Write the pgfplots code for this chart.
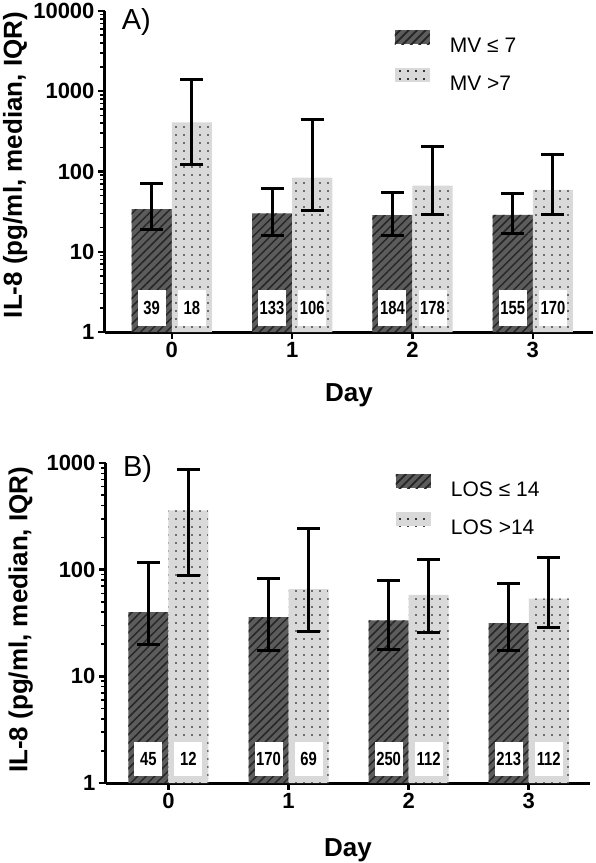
\documentclass[border=0pt]{standalone}
\usepackage{fontspec}
\setmainfont{Liberation Sans}
\newfontfamily\cntfont[FakeStretch=0.78]{Liberation Sans}
\usepackage{pgfplots}
\pgfplotsset{compat=1.18}
\usetikzlibrary{patterns.meta}
\definecolor{darkfill}{RGB}{92,92,92}
\definecolor{lightfill}{RGB}{217,217,217}
\tikzset{
  darkpat/.style={fill=darkfill, postaction={pattern color=black!85, pattern={Lines[angle=45,distance=6pt,line width=1.5pt]}}},
  lightpat/.style={fill=lightfill, postaction={pattern color=black, pattern={Dots[distance=8pt,radius=0.9pt]}}},
  cntnode/.style={anchor=center, fill=white, inner sep=0pt, minimum width=28pt, minimum height=#1, font=\cntfont\bfseries\fontsize{19}{19}\selectfont},
}
\begin{document}
\begin{tikzpicture}
\useasboundingbox (-105pt,-531pt) rectangle (491pt,332pt);
% ---------------- Panel A ----------------
\begin{axis}[at={(0pt,0pt)}, anchor=south west,
  scale only axis, width=488pt, height=321pt,
  ymode=log, clip=false,
  xmin=-0.555, xmax=3.5, ymin=1, ymax=10000,
  axis x line*=bottom, axis y line*=left,
  axis line style={line width=3pt, black},
  tick align=outside,
  major tick length=7pt, minor tick length=4.5pt,
  every major tick/.append style={line width=2.5pt, black},
  every minor tick/.append style={line width=1.5pt, black},
  xtick={0,1,2,3}, xticklabels={0,1,2,3},
  ytick={1,10,100,1000,10000}, yticklabels={1,10,100,1000,10000},
  minor ytick={2,3,4,5,6,7,8,9,20,30,40,50,60,70,80,90,200,300,400,500,600,700,800,900,2000,3000,4000,5000,6000,7000,8000,9000},
  tick label style={font=\bfseries\fontsize{22}{22}\selectfont},
  ylabel={IL-8 (pg/ml, median, IQR)}, xlabel={Day},
  label style={font=\bfseries\fontsize{26}{26}\selectfont, inner sep=0pt},
  ylabel style={at={(axis description cs:-0.184,0.52)}, anchor=center},
  xlabel style={at={(axis description cs:0.5,-0.159)}, anchor=north},
  legend style={draw=none, fill=none, inner sep=0pt, outer sep=0pt,
    row sep=12pt, font=\fontsize{21}{21}\selectfont,
    nodes={inner sep=0pt, text height=16pt, text depth=4pt},
    at={(0.594,0.94)}, anchor=north west},
  legend cell align=left,
]
\addplot[ybar, bar width=0.3333, bar shift=0pt, draw=none, darkpat,
  legend image code/.code={\path[darkpat] (0pt,2pt) rectangle (35pt,16pt); \path (55pt,0pt);},
  error bars/y dir=both, error bars/y explicit,
  error bars/error bar style={line width=3pt, black},
  error bars/error mark options={rotate=90, mark size=11.5pt, line width=3pt, black}]
coordinates {
  (-0.1667,34.0) += (0,36.7) -= (0,14.9)
  (0.8333,30.0) += (0,31.0) -= (0,13.9)
  (1.8333,28.5) += (0,26.1) -= (0,12.4)
  (2.8333,28.8) += (0,24.8) -= (0,12.0)
};
\addlegendentry{MV ≤ 7}
\addplot[ybar, bar width=0.3333, bar shift=0pt, draw=none, lightpat,
  legend image code/.code={\path[lightpat] (0pt,2pt) rectangle (35pt,16pt); \path (55pt,0pt);},
  error bars/y dir=both, error bars/y explicit,
  error bars/error bar style={line width=3pt, black},
  error bars/error mark options={rotate=90, mark size=11.5pt, line width=3pt, black}]
coordinates {
  (0.1667,410) += (0,1006) -= (0,289)
  (1.1667,84.0) += (0,365) -= (0,51.5)
  (2.1667,66.7) += (0,138.3) -= (0,37.9)
  (3.1667,59.0) += (0,102) -= (0,30.2)
};
\addlegendentry{MV >7}
\addplot[draw=none, no marks, forget plot, nodes near coords, point meta=explicit symbolic,
  every node near coord/.append style={cntnode=36pt}]
coordinates {
  (-0.1667,1.97) [39] (0.1667,1.97) [18]
  (0.8333,1.97) [133] (1.1667,1.97) [106]
  (1.8333,1.97) [184] (2.1667,1.97) [178]
  (2.8333,1.97) [155] (3.1667,1.97) [170]
};
\node[anchor=base west, inner sep=0pt, font=\fontsize{29}{29}\selectfont] at (rel axis cs:0.034,0.941) {A)};
\end{axis}
% ---------------- Panel B ----------------
\begin{axis}[at={(1pt,-451pt)}, anchor=south west,
  scale only axis, width=484pt, height=320pt,
  ymode=log, clip=false,
  xmin=-0.52, xmax=3.51, ymin=1, ymax=1000,
  axis x line*=bottom, axis y line*=left,
  axis line style={line width=3pt, black},
  tick align=outside,
  major tick length=7pt, minor tick length=4.5pt,
  every major tick/.append style={line width=2.5pt, black},
  every minor tick/.append style={line width=1.5pt, black},
  xtick={0,1,2,3}, xticklabels={0,1,2,3},
  ytick={1,10,100,1000}, yticklabels={1,10,100,1000},
  minor ytick={2,3,4,5,6,7,8,9,20,30,40,50,60,70,80,90,200,300,400,500,600,700,800,900},
  tick label style={font=\bfseries\fontsize{22}{22}\selectfont},
  ylabel={IL-8 (pg/ml, median, IQR)}, xlabel={Day},
  label style={font=\bfseries\fontsize{26}{26}\selectfont, inner sep=0pt},
  ylabel style={at={(axis description cs:-0.176,0.51)}, anchor=center},
  xlabel style={at={(axis description cs:0.5,-0.172)}, anchor=north},
  legend style={draw=none, fill=none, inner sep=0pt, outer sep=0pt,
    row sep=12pt, font=\fontsize{21}{21}\selectfont,
    nodes={inner sep=0pt, text height=16pt, text depth=4pt},
    at={(0.599,0.965)}, anchor=north west},
  legend cell align=left,
]
\addplot[ybar, bar width=0.3333, bar shift=0pt, draw=none, darkpat,
  legend image code/.code={\path[darkpat] (0pt,2pt) rectangle (35pt,16pt); \path (55pt,0pt);},
  error bars/y dir=both, error bars/y explicit,
  error bars/error bar style={line width=3pt, black},
  error bars/error mark options={rotate=90, mark size=11.5pt, line width=3pt, black}]
coordinates {
  (-0.1667,40.1) += (0,76.9) -= (0,20.3)
  (0.8333,35.9) += (0,46.3) -= (0,18.5)
  (1.8333,33.4) += (0,45.3) -= (0,15.6)
  (2.8333,31.6) += (0,42.2) -= (0,14.1)
};
\addlegendentry{LOS ≤ 14}
\addplot[ybar, bar width=0.3333, bar shift=0pt, draw=none, lightpat,
  legend image code/.code={\path[lightpat] (0pt,2pt) rectangle (35pt,16pt); \path (55pt,0pt);},
  error bars/y dir=both, error bars/y explicit,
  error bars/error bar style={line width=3pt, black},
  error bars/error mark options={rotate=90, mark size=11.5pt, line width=3pt, black}]
coordinates {
  (0.1667,359) += (0,518) -= (0,271.3)
  (1.1667,65.8) += (0,179.2) -= (0,39.4)
  (2.1667,58.2) += (0,65.8) -= (0,32.7)
  (3.1667,53.4) += (0,77.6) -= (0,25.0)
};
\addlegendentry{LOS >14}
\addplot[draw=none, no marks, forget plot, nodes near coords, point meta=explicit symbolic,
  every node near coord/.append style={cntnode=34pt}]
coordinates {
  (-0.1667,1.67) [45] (0.1667,1.67) [12]
  (0.8333,1.67) [170] (1.1667,1.67) [69]
  (1.8333,1.67) [250] (2.1667,1.67) [112]
  (2.8333,1.67) [213] (3.1667,1.67) [112]
};
\node[anchor=base west, inner sep=0pt, font=\fontsize{29}{29}\selectfont] at (rel axis cs:0.035,0.957) {B)};
\end{axis}
\end{tikzpicture}
\end{document}
